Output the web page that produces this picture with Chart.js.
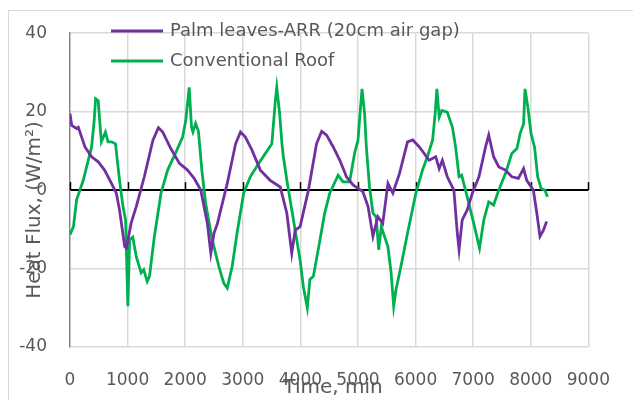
<!DOCTYPE html>
<html>
<head>
<meta charset="utf-8">
<script src="https://cdn.jsdelivr.net/npm/chart.js@4.4.0/dist/chart.umd.min.js"></script>
<style>
  html, body { margin: 0; padding: 0; background: #fff; }
  #wrap { position: relative; width: 633px; height: 400px; overflow: hidden; }
  #frame { position: absolute; left: 8px; top: 10px; width: 700px; height: 500px; border: 1.5px solid #d9d9d9; }
  #c { position: absolute; left: 0; top: 0; }
</style>
</head>
<body>
<div id="wrap">
  <div id="frame"></div>
  <canvas id="c" width="633" height="400"></canvas>
</div>
<script>
// series labels
const seriesNames = ['Palm leaves-ARR (20cm air gap)', 'Conventional Roof'];
const seriesColors = ['#7030a0', '#00b050'];

// axis ticks
const timeTicks = [0, 1000, 2000, 3000, 4000, 5000, 6000, 7000, 8000, 9000];
const fluxTicks = [-40, -20, 0, 20, 40];

// palm leaves roof: time (min) and heat flux (W/m2)
const palmTime = [0, 30, 115, 145, 260, 375, 490, 600, 720, 805,
  860, 950, 980, 1060, 1150, 1290, 1440, 1535, 1610, 1750,
  1900, 2040, 2155, 2270, 2385, 2445, 2500, 2560, 2730, 2875,
  2960, 3045, 3160, 3305, 3475, 3650, 3765, 3850, 3910, 3995,
  4140, 4280, 4370, 4455, 4570, 4685, 4800, 4915, 5085, 5175,
  5260, 5345, 5430, 5520, 5605, 5720, 5860, 5950, 6065, 6235,
  6350, 6410, 6465, 6550, 6665, 6725, 6755, 6810, 6895, 6985,
  7100, 7215, 7270, 7355, 7445, 7560, 7670, 7785, 7875, 7930,
  8045, 8105, 8160, 8220, 8275];
const palmFlux = [19.5, 16.5, 15.7, 16, 11, 8.5, 7.2, 5.1, 1.7, -0.8,
  -5.1, -14.4, -14.8, -8.5, -4.2, 3.4, 12.7, 15.9, 14.8, 10.6,
  6.8, 5.1, 3.0, 0, -8.5, -16.1, -11, -8.5, 1.7, 11.8,
  14.8, 13.5, 10.2, 5.1, 2.5, 0.8, -5.9, -16.1, -10.2, -9.3,
  0, 11.8, 15, 14, 11, 7.6, 3.4, 1.3, -0.4, -4.2,
  -11.8, -6.8, -8.5, 1.7, -0.8, 4.2, 12.3, 12.8, 11, 7.6,
  8.5, 5.5, 7.6, 3.4, 0, -11, -15.2, -7.6, -5.1, -0.8,
  3.4, 11, 14, 8.5, 5.9, 5.1, 3.4, 3.0, 5.5, 2.5,
  0, -5.9, -11.8, -10.2, -8];

// conventional roof: time (min) and heat flux (W/m2)
const roofTime = [0, 60, 115, 230, 375, 420, 445, 490, 515, 545,
  615, 660, 720, 790, 860, 920, 965, 1005, 1035, 1090,
  1150, 1235, 1280, 1340, 1380, 1465, 1580, 1695, 1840, 1955,
  2010, 2070, 2110, 2135, 2180, 2230, 2290, 2355, 2470, 2585,
  2670, 2730, 2815, 2900, 3015, 3130, 3275, 3390, 3505, 3565,
  3590, 3640, 3680, 3705, 3765, 3880, 3995, 4050, 4120, 4165,
  4225, 4340, 4420, 4510, 4655, 4740, 4855, 4945, 5000, 5040,
  5070, 5115, 5145, 5200, 5260, 5315, 5360, 5405, 5460, 5520,
  5575, 5620, 5660, 5745, 5860, 6005, 6120, 6205, 6295, 6340,
  6370, 6410, 6455, 6550, 6640, 6695, 6755, 6800, 6895, 7010,
  7110, 7185, 7270, 7355, 7445, 7560, 7670, 7760, 7815, 7875,
  7900, 7950, 8005, 8065, 8120, 8180, 8245, 8290];
const roofFlux = [-11.4, -9.3, -2.5, 2.5, 11, 17.8, 23.3, 22.8, 17.8, 12.3,
  14.8, 12.3, 12.3, 11.8, 2.5, -4.2, -7.6, -29.6, -12.7, -12,
  -16.9, -21.1, -20.3, -23.3, -22, -11.8, -0.8, 5.1, 9.7, 13.5,
  17.8, 26.2, 16, 14.8, 17, 15, 5, -3.4, -12.7, -19.5,
  -23.7, -25, -19.5, -11, -0.8, 3.4, 6.8, 9.3, 11.8, 22.8,
  26.2, 19.5, 11.8, 8.5, 2.5, -7.6, -17.8, -24.5, -30, -22.8,
  -22, -12.7, -6, -0.8, 3.8, 2.1, 2.1, 9.7, 12.7, 20.3,
  25.8, 19.5, 11, 0.8, -5.9, -6.8, -15.2, -9.3, -11.8, -14.4,
  -21.1, -29.6, -25.4, -19.5, -11, -0.8, 5.1, 8.5, 12.7, 19.5,
  25.8, 18.6, 20.3, 19.9, 16, 11, 3.4, 3.8, -1.7, -8.5,
  -14.8, -7.6, -3, -3.8, 0, 4.2, 9.3, 10.6, 14.4, 16.9,
  25.8, 21.1, 14.4, 11, 3.4, 0.4, 0, -1.7];

const textColor = '#595959';
const fontFam = '"DejaVu Sans", sans-serif';

const toPoints = (xs, ys) => xs.map((t, i) => ({ x: t, y: ys[i] }));

// zero axis ticks, legend and axis titles drawn over the plot
const overlay = {
  id: 'overlay',
  beforeDatasetsDraw(chart) {
    const { ctx, scales: { x, y } } = chart;
    const y0 = y.getPixelForValue(0);
    ctx.save();
    ctx.strokeStyle = '#000';
    ctx.lineWidth = 1.5;
    timeTicks.forEach(t => {
      const px = Math.round(x.getPixelForValue(t)) + 0.5;
      ctx.beginPath();
      ctx.moveTo(px, y0);
      ctx.lineTo(px, y0 - 8);
      ctx.stroke();
    });
    ctx.restore();
  },
  afterDraw(chart) {
    const ctx = chart.ctx;
    ctx.save();
    // legend
    ctx.font = '18px ' + fontFam;
    ctx.textBaseline = 'middle';
    ctx.textAlign = 'left';
    chart.data.datasets.forEach((ds, i) => {
      const ly = 31 + i * 30;
      ctx.strokeStyle = ds.borderColor;
      ctx.lineWidth = 3;
      ctx.beginPath();
      ctx.moveTo(111, ly);
      ctx.lineTo(163, ly);
      ctx.stroke();
      ctx.fillStyle = textColor;
      ctx.fillText(ds.label, 170, ly);
    });
    // axis titles
    ctx.font = '20px ' + fontFam;
    ctx.textAlign = 'center';
    ctx.fillText('Time, min', 333, 388);
    ctx.translate(35, 210);
    ctx.rotate(-Math.PI / 2);
    ctx.fillText('Heat Flux, (W/m\u00B2)', 0, 0);
    ctx.restore();
  }
};

new Chart(document.getElementById('c'), {
  type: 'line',
  data: {
    datasets: [
      {
        label: seriesNames[0],
        data: toPoints(palmTime, palmFlux),
        borderColor: seriesColors[0],
        borderWidth: 2.8,
        pointRadius: 0,
        tension: 0,
      },
      {
        label: seriesNames[1],
        data: toPoints(roofTime, roofFlux),
        borderColor: seriesColors[1],
        borderWidth: 2.8,
        pointRadius: 0,
        tension: 0,
      },
    ],
  },
  options: {
    responsive: false,
    animation: false,
    devicePixelRatio: 1,
    layout: { padding: { top: 32, right: 39, left: 0, bottom: 0 } },
    plugins: {
      legend: { display: false },
      tooltip: { enabled: false },
    },
    scales: {
      x: {
        type: 'linear',
        min: timeTicks[0],
        max: timeTicks[timeTicks.length - 1],
        afterBuildTicks: s => { s.ticks = timeTicks.map(v => ({ value: v })); },
        afterFit: s => { s.height = 53; },
        ticks: {
          color: textColor,
          font: { family: fontFam, size: 17 },
          padding: 23,
          maxRotation: 0,
          callback: v => String(v),
        },
        grid: {
          drawTicks: false,
          color: c => (c.tick && c.tick.value === 0 ? 'rgba(0,0,0,0)' : '#d9d9d9'),
          lineWidth: 1.5,
        },
        border: { display: false },
      },
      y: {
        min: fluxTicks[0],
        max: fluxTicks[fluxTicks.length - 1],
        afterBuildTicks: s => { s.ticks = fluxTicks.map(v => ({ value: v })); },
        afterFit: s => { s.width = 70; },
        ticks: {
          color: textColor,
          font: { family: fontFam, size: 17 },
          padding: 23,
          callback: v => String(v),
        },
        grid: {
          drawTicks: false,
          color: c => (c.tick && c.tick.value === 0 ? '#000' : '#d9d9d9'),
          lineWidth: c => (c.tick && c.tick.value === 0 ? 2 : 1.5),
        },
        border: { color: '#868686', width: 1.5 },
      },
    },
  },
  plugins: [overlay],
});
</script>
</body>
</html>
